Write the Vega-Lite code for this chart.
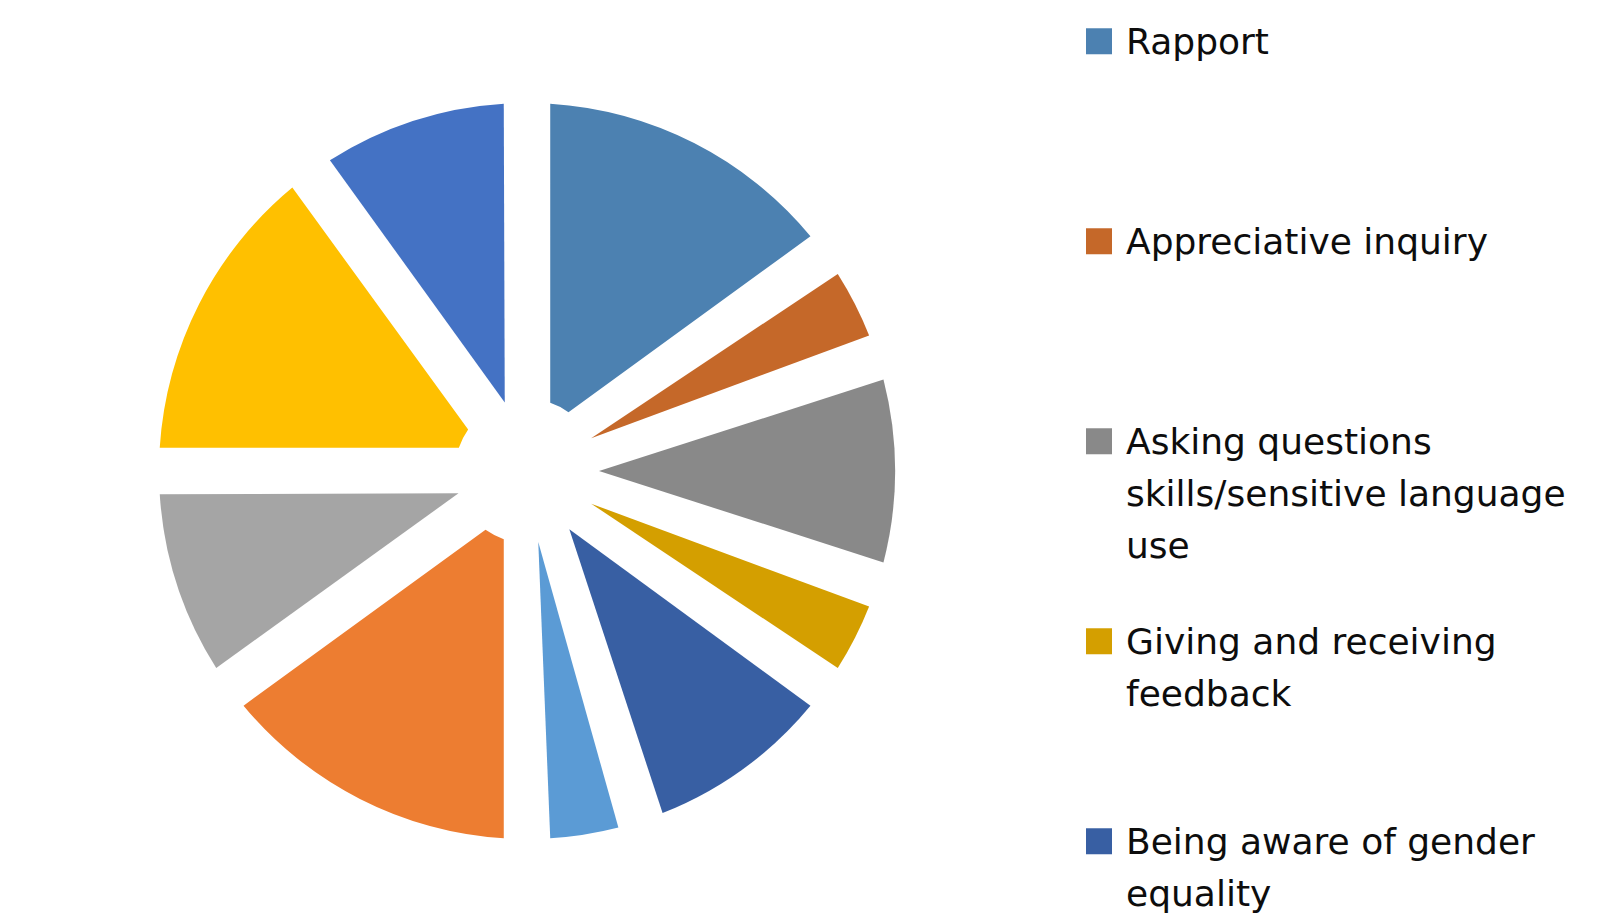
{
  "$schema": "https://vega.github.io/schema/vega-lite/v6.json",
  "width": 1054,
  "height": 886,
  "autosize": {"type": "none"},
  "padding": {"left": 0, "top": 28, "right": 569, "bottom": 0},
  "background": "white",
  "data": {
    "values": [
      {"order": 1, "topic": "Rapport", "value": 15},
      {"order": 2, "topic": "Appreciative inquiry", "value": 5},
      {"order": 3, "topic": "Asking questions skills/sensitive language use", "value": 10},
      {"order": 4, "topic": "Giving and receiving feedback", "value": 5},
      {"order": 5, "topic": "Being aware of gender equality", "value": 10},
      {"order": 6, "topic": "Topic 6", "value": 5},
      {"order": 7, "topic": "Topic 7", "value": 15},
      {"order": 8, "topic": "Topic 8", "value": 10},
      {"order": 9, "topic": "Topic 9", "value": 15},
      {"order": 10, "topic": "Topic 10", "value": 10}
    ]
  },
  "mark": {"type": "arc", "outerRadius": 368, "innerRadius": 72, "padAngle": 0.124},
  "encoding": {
    "theta": {"field": "value", "type": "quantitative", "stack": true},
    "order": {"field": "order", "type": "quantitative"},
    "color": {
      "field": "topic",
      "type": "nominal",
      "sort": null,
      "scale": {
        "domain": ["Rapport", "Appreciative inquiry", "Asking questions skills/sensitive language use", "Giving and receiving feedback", "Being aware of gender equality", "Topic 6", "Topic 7", "Topic 8", "Topic 9", "Topic 10"],
        "range": ["#4C81B1", "#C56829", "#898989", "#D49F00", "#385FA3", "#5B9BD5", "#ED7D31", "#A5A5A5", "#FFC000", "#4472C4"]
      },
      "legend": {
        "values": ["Rapport", "Appreciative inquiry", "Asking questions skills/sensitive language use", "Giving and receiving feedback", "Being aware of gender equality"],
        "title": null,
        "orient": "right",
        "offset": 19,
        "symbolType": "M-0.5,-0.99H0.5V0.01H-0.5Z",
        "symbolSize": 2704,
        "symbolStrokeWidth": 0,
        "symbolOpacity": 1,
        "labelFont": "DejaVu Sans",
        "labelFontSize": 36,
        "labelColor": "#0d0d0d",
        "labelBaseline": "alphabetic",
        "labelOffset": 1,
        "labelLimit": 800,
        "labelOverlap": false,
        "rowPadding": 60,
        "labelExpr": "datum.label == 'Asking questions skills/sensitive language use' ? ['Asking questions', 'skills/sensitive language', 'use'] : datum.label == 'Giving and receiving feedback' ? ['Giving and receiving', 'feedback', ' '] : datum.label == 'Being aware of gender equality' ? ['Being aware of gender', 'equality', ' '] : [datum.label, ' ', ' ']"
      }
    }
  },
  "config": {
    "view": {"stroke": null},
    "style": {"guide-label": {"lineHeight": 52}}
  }
}
